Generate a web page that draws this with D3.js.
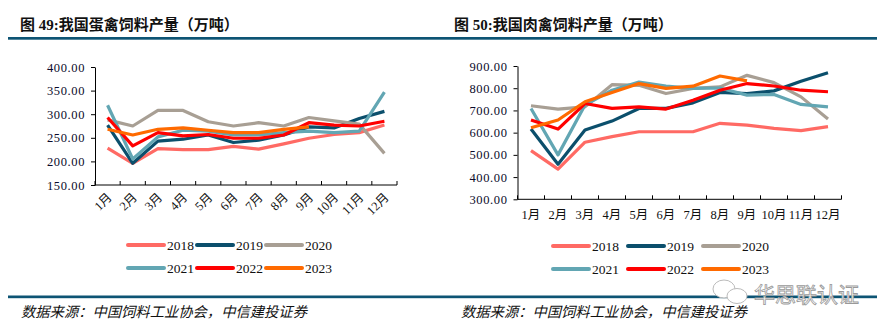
<!DOCTYPE html>
<html><head><meta charset="utf-8">
<script src="https://cdn.jsdelivr.net/npm/d3@7"></script>
<style>
html,body{margin:0;padding:0;background:#fff;}
svg{display:block;}
</style>
</head><body>
<svg id="c" width="892" height="333"></svg>
<script>
const months = ["1月","2月","3月","4月","5月","6月","7月","8月","9月","10月","11月","12月"];
const years = ["2018","2019","2020","2021","2022","2023"];
const colors = ["#ff6a64","#0b4f6c","#a89f94","#62a6b3","#ff0000","#ff6a00"];

// Chart 49: egg poultry feed output (10k tons)
const egg2018 = [228,196,227,225,225,232,226,237,249,257,261,277];
const egg2019 = [277,196,243,247,256,240,245,256,273,271,291,306];
const egg2020 = [288,275,308,308,284,275,282,275,293,286,279,217];
const egg2021 = [319,205,252,266,264,256,256,261,264,261,264,347];
const egg2022 = [293,233,261,254,257,249,249,256,282,277,275,285];
const egg2023 = [268,256,268,271,266,261,261,268,273];
const eggTicks = [150,200,250,300,350,400];

// Chart 50: meat poultry feed output (10k tons)
const meat2018 = [519,436,557,582,604,604,604,642,634,619,609,627];
const meat2019 = [616,458,612,652,709,709,734,781,776,788,831,870];
const meat2020 = [721,706,716,816,813,776,799,806,858,825,761,661];
const meat2021 = [709,500,724,791,828,810,799,801,769,772,727,716];
const meat2022 = [657,616,731,709,716,706,746,791,821,810,791,784];
const meat2023 = [622,657,739,781,821,799,809,855,833];
const meatTicks = [300,400,500,600,700,800,900];

const svg = d3.select("#c");
const DARK = "#0d5474";
const serif = "'Liberation Serif','Times New Roman','Noto Sans CJK SC',serif";

// Header titles and rules
svg.append("text").attr("x",20).attr("y",30).attr("font-size",15).attr("font-weight","bold")
  .attr("font-family",serif).attr("fill","#111").text("图 49:我国蛋禽饲料产量（万吨）");
svg.append("text").attr("x",454).attr("y",30).attr("font-size",15).attr("font-weight","bold")
  .attr("font-family",serif).attr("fill","#111").text("图 50:我国肉禽饲料产量（万吨）");
svg.append("rect").attr("x",8).attr("y",37).attr("width",869).attr("height",2.7).attr("fill",DARK);
svg.append("rect").attr("x",8).attr("y",295.5).attr("width",869).attr("height",2.7).attr("fill",DARK);

svg.append("text").attr("x",21).attr("y",317).attr("font-size",14.3).attr("font-style","italic")
  .attr("font-family","'Noto Sans CJK SC',sans-serif").attr("fill","#111").text("数据来源：中国饲料工业协会，中信建投证券");
svg.append("text").attr("x",461).attr("y",317).attr("font-size",14.3).attr("font-style","italic")
  .attr("font-family","'Noto Sans CJK SC',sans-serif").attr("fill","#111").text("数据来源：中国饲料工业协会，中信建投证券");

// watermark
const wm = svg.append("g");
wm.append("ellipse").attr("cx",724).attr("cy",289).attr("rx",11).attr("ry",9).attr("fill","#fff").attr("stroke","#bbb").attr("stroke-width",1);
wm.append("ellipse").attr("cx",737).attr("cy",296).attr("rx",10).attr("ry",7.5).attr("fill","#fff").attr("stroke","#bbb").attr("stroke-width",1);
wm.append("text").attr("x",754).attr("y",302).attr("font-size",21)
  .attr("font-family","'Noto Sans CJK SC',sans-serif").attr("fill","#fff").attr("stroke","#999").attr("stroke-width",0.8)
  .text("华思联认证");

function drawChart(cfg){
  const g = svg.append("g");
  const x = d3.scaleBand().domain(months).range([cfg.x0, cfg.x1]).padding(0);
  const y = d3.scaleLinear().domain([cfg.ticks[0], cfg.ticks[cfg.ticks.length-1]]).range([cfg.yb, cfg.yt]);

  // y axis
  const ya = g.append("g").attr("transform",`translate(${cfg.x0},0)`)
    .call(d3.axisLeft(y).tickValues(cfg.ticks).tickFormat(d3.format(".2f")).tickSize(4).tickSizeOuter(0).tickPadding(6));
  ya.select(".domain").attr("stroke","#000");
  ya.selectAll(".tick line").attr("stroke","#000");
  ya.selectAll("text").attr("font-size",12.5).attr("font-family",serif).attr("fill","#0a0a2a").attr("letter-spacing",0.6);

  // x axis line and inward ticks at band boundaries
  g.append("line").attr("x1",cfg.x0).attr("x2",cfg.x1).attr("y1",cfg.yb).attr("y2",cfg.yb).attr("stroke","#000");
  const bounds = months.map(m=>x(m)).concat([x(months[months.length-1])+x.bandwidth()]);
  g.selectAll(".xt").data(bounds).enter().append("line")
    .attr("x1",d=>d).attr("x2",d=>d).attr("y1",cfg.yb).attr("y2",cfg.yb-4).attr("stroke","#000");

  // x labels
  const lbl = g.selectAll(".xl").data(months).enter().append("text")
    .attr("font-size",12.5).attr("font-family",serif).attr("fill","#111").text(d=>d);
  if(cfg.rotate){
    lbl.attr("text-anchor","end")
      .attr("transform",d=>`translate(${x(d)+x.bandwidth()/2+2},${cfg.yb+10}) rotate(-45)`)
      .attr("dy","0.35em");
  } else {
    lbl.attr("text-anchor","middle").attr("x",d=>x(d)+x.bandwidth()/2).attr("y",cfg.yb+20);
  }

  // lines
  const line = d3.line().x((d,i)=>x(months[i])+x.bandwidth()/2).y(d=>y(d)).curve(d3.curveLinear);
  cfg.series.forEach((s,k)=>{
    g.append("path").datum(s).attr("d",line).attr("fill","none").attr("stroke",colors[k])
      .attr("stroke-width",3.2).attr("stroke-linejoin","round").attr("stroke-linecap","butt");
  });

  // legend
  years.forEach((yr,k)=>{
    const col = k%3, row = Math.floor(k/3);
    const lx = cfg.legX + col*cfg.legStep, ly = cfg.legY + row*23;
    g.append("line").attr("x1",lx).attr("x2",lx+36).attr("y1",ly).attr("y2",ly)
      .attr("stroke",colors[k]).attr("stroke-width",4).attr("stroke-linecap","round");
    g.append("text").attr("x",lx+39).attr("y",ly).attr("dy","0.35em").attr("font-size",13.5)
      .attr("font-family",serif).attr("fill","#111").text(yr);
  });
}

drawChart({x0:95,x1:397,yt:67,yb:185,ticks:eggTicks,rotate:true,
  series:[egg2018,egg2019,egg2020,egg2021,egg2022,egg2023],legX:128,legStep:69,legY:245});
drawChart({x0:517.5,x1:841.5,yt:66,yb:199.3,ticks:meatTicks,rotate:false,
  series:[meat2018,meat2019,meat2020,meat2021,meat2022,meat2023],legX:553,legStep:75,legY:246});
</script>
</body></html>
